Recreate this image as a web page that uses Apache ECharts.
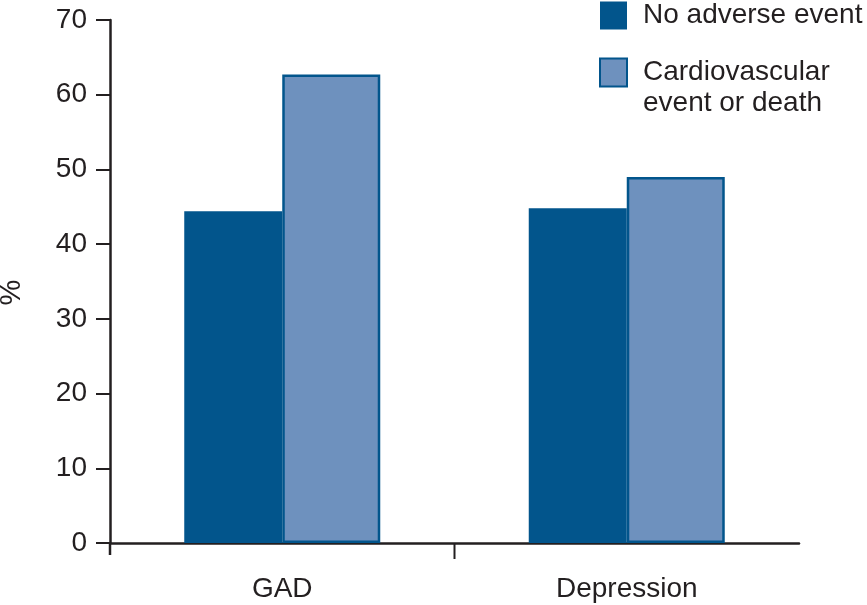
<!DOCTYPE html>
<html>
<head>
<meta charset="utf-8">
<script src="https://cdn.jsdelivr.net/npm/echarts@6/dist/echarts.min.js"></script>
<style>
html,body{margin:0;padding:0;background:#fff;}
#c{width:867px;height:605px;}
</style>
</head>
<body>
<div id="c"></div>
<script>
const categories = ['GAD', 'Depression'];
const noAdverse = [44.4, 44.8];
const cardioDeath = [62.7, 49.0];
const seriesNames = ['No adverse event', 'Cardiovascular\nevent or death'];

const ink = '#231f20';
const font = 'Liberation Sans';
const chart = echarts.init(document.getElementById('c'));
chart.setOption({
  animation: false,
  textStyle: { fontFamily: font },
  grid: { left: 110, right: 68, top: 20, bottom: 62, containLabel: false, outerBoundsMode: 'none' },
  legend: {
    left: 599, top: 0, orient: 'vertical', padding: 0,
    itemWidth: 27, itemHeight: 28, itemGap: -5,
    icon: 'rect',
    formatter: function (name) { return name.indexOf('\n') >= 0 ? '\n' + name : name; },
    textStyle: { fontSize: 28, color: ink, fontFamily: font, lineHeight: 31, padding: [0, 0, 0, 11] },
    data: seriesNames
  },
  xAxis: {
    type: 'category',
    data: categories,
    axisLine: { lineStyle: { color: ink, width: 2.5 } },
    axisTick: { show: false },
    axisLabel: { fontSize: 28, color: ink, margin: 32, fontFamily: font }
  },
  yAxis: {
    type: 'value', min: 0, max: 70, interval: 10,
    name: '%', nameLocation: 'middle', nameGap: 84, nameRotate: 90,
    nameTextStyle: { fontSize: 29, color: ink, fontFamily: font, padding: [0, 22, 0, 0] },
    axisLine: { show: true, lineStyle: { color: ink, width: 2.5 } },
    axisTick: { show: true, length: 14, lineStyle: { color: ink, width: 2 } },
    splitLine: { show: false },
    axisLabel: { fontSize: 28, color: ink, margin: 23, fontFamily: font }
  },
  series: [
    {
      name: seriesNames[0], type: 'bar', data: noAdverse,
      barWidth: 98, barGap: '0%',
      itemStyle: { color: '#02558c' }
    },
    {
      name: seriesNames[1], type: 'bar', data: cardioDeath,
      barWidth: 98,
      itemStyle: { color: '#6e91be', borderColor: '#02558c', borderWidth: 2.5 }
    }
  ]
});

// category boundary ticks (left boundary and between categories only), derived from the axis scale
const p0 = chart.convertToPixel({ gridIndex: 0 }, [categories[0], 0]);
const p1 = chart.convertToPixel({ gridIndex: 0 }, [categories[1], 0]);
const band = p1[0] - p0[0];
const bx = [p0[0] - band / 2, (p0[0] + p1[0]) / 2];
chart.setOption({
  graphic: [
    { type: 'line', shape: { x1: bx[0], y1: p0[1], x2: bx[0], y2: p0[1] + 12 }, style: { stroke: ink, lineWidth: 2.5 } },
    { type: 'line', shape: { x1: bx[1], y1: p0[1], x2: bx[1], y2: p0[1] + 16 }, style: { stroke: ink, lineWidth: 2 } }
  ]
});
</script>
</body>
</html>
